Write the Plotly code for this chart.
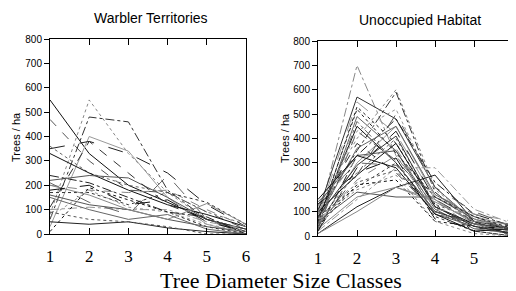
import plotly.graph_objects as go

# ---------------- data ----------------
size_classes = [1, 2, 3, 4, 5, 6]
y_ticks = [0, 100, 200, 300, 400, 500, 600, 700, 800]

warbler_territories = [
    [550, 330, 200, 130, 60, 10],
    [470, 300, 180, 170, 90, 20],
    [80, 550, 330, 170, 60, 10],
    [60, 480, 460, 180, 60, 20],
    [30, 400, 340, 150, 40, 0],
    [350, 380, 330, 250, 120, 30],
    [360, 250, 200, 170, 90, 40],
    [330, 250, 180, 120, 80, 30],
    [220, 240, 230, 150, 60, 20],
    [200, 180, 170, 180, 100, 30],
    [170, 170, 120, 170, 130, 40],
    [100, 110, 100, 100, 50, 20],
    [50, 40, 50, 25, 10, 0],
    [210, 130, 80, 240, 60, 0],
    [10, 190, 140, 90, 30, 0],
    [160, 120, 100, 60, 30, 10],
    [200, 160, 100, 60, 125, 40],
    [110, 380, 250, 120, 60, 20],
    [70, 180, 110, 90, 40, 10],
    [240, 210, 150, 90, 70, 0],
    [150, 100, 60, 80, 20, 0],
    [180, 200, 120, 140, 50, 10],
    [90, 60, 50, 30, 0, 0],
]

unoccupied_habitat = [
    [60, 700, 330, 120, 40, 20],
    [100, 570, 480, 200, 60, 30],
    [80, 550, 420, 150, 30, 10],
    [50, 530, 380, 130, 20, 0],
    [40, 490, 350, 110, 30, 10],
    [70, 450, 300, 100, 50, 20],
    [30, 430, 310, 140, 60, 10],
    [120, 400, 600, 200, 60, 20],
    [90, 350, 590, 180, 50, 30],
    [40, 300, 450, 160, 80, 40],
    [20, 280, 430, 150, 60, 30],
    [60, 260, 400, 130, 70, 20],
    [100, 250, 380, 120, 50, 30],
    [130, 330, 350, 90, 40, 10],
    [50, 230, 330, 100, 30, 20],
    [80, 200, 300, 80, 20, 0],
    [20, 150, 280, 280, 110, 50],
    [10, 120, 200, 250, 60, 0],
    [140, 300, 290, 170, 90, 40],
    [40, 210, 230, 60, 40, 10],
    [60, 180, 160, 160, 70, 30],
    [30, 160, 200, 150, 50, 20],
    [110, 380, 260, 100, 60, 40],
    [90, 430, 520, 190, 70, 30],
    [20, 330, 480, 220, 90, 40],
    [70, 360, 450, 170, 80, 20],
    [130, 260, 320, 70, 30, 40],
    [50, 220, 270, 90, 50, 30],
    [10, 100, 200, 140, 60, 50],
    [80, 290, 410, 120, 40, 10],
    [100, 320, 360, 110, 90, 60],
    [60, 520, 340, 160, 80, 30],
    [30, 470, 300, 100, 50, 0],
    [150, 330, 280, 90, 20, 30],
    [40, 250, 500, 200, 100, 40],
    [70, 190, 250, 60, 10, 0],
]

# ---------------- styling ----------------
colors = ["#111111", "#555555", "#888888", "#333333", "#999999", "#222222", "#666666"]
dashes = ["solid", "dash", "dot", "dashdot", "solid", "longdash", "dot", "solid"]

fig = go.Figure()

for i, vals in enumerate(warbler_territories):
    fig.add_trace(go.Scatter(
        x=size_classes, y=vals, mode="lines", showlegend=False, hoverinfo="skip",
        line=dict(color=colors[i % len(colors)], width=1, dash=dashes[i % len(dashes)]),
        xaxis="x", yaxis="y"))

for i, vals in enumerate(unoccupied_habitat):
    fig.add_trace(go.Scatter(
        x=size_classes, y=vals, mode="lines", showlegend=False, hoverinfo="skip",
        line=dict(color=colors[(i + 2) % len(colors)], width=1, dash=dashes[(i + 3) % len(dashes)]),
        xaxis="x2", yaxis="y2"))

# the page body has an 8px margin, so the figure is drawn 8px in from the window corner
OFF = 8
W, H = 516, 291
def px(x):
    return (x - OFF) / W
def py(y):
    return 1 - (y - OFF) / H

serif = "Liberation Serif, Times New Roman, serif"
sans = "Liberation Sans, Arial, sans-serif"

xcommon = dict(range=[1, 6], tickvals=size_classes, ticks="inside", ticklen=6,
               tickcolor="black", showline=True, linecolor="black", linewidth=1,
               mirror="ticks", showgrid=False, zeroline=False, automargin=False,
               tickfont=dict(family=serif, size=17, color="black"),
               ticklabelstandoff=7, ticklabeloverflow="allow")
ycommon = dict(range=[0, 800], tickvals=y_ticks, ticks="outside", ticklen=5,
               tickcolor="black", showline=True, linecolor="black", linewidth=1,
               mirror=True, showgrid=False, zeroline=False, automargin=False,
               tickfont=dict(family=sans, size=10, color="black"))
yright = dict(range=[0, 800], tickvals=y_ticks, ticks="inside", ticklen=5,
              tickcolor="black", showticklabels=False, showline=False,
              showgrid=False, zeroline=False, side="right", automargin=False)

fig.update_layout(
    width=W, height=H,
    margin=dict(l=0, r=0, t=0, b=0, autoexpand=False),
    paper_bgcolor="white", plot_bgcolor="white",
    xaxis=dict(domain=[px(50), px(246)], anchor="y", **xcommon),
    yaxis=dict(domain=[py(234), py(39)], anchor="x", **ycommon),
    xaxis2=dict(domain=[px(318), px(513)], anchor="y2", **xcommon),
    yaxis2=dict(domain=[py(236), py(41)], anchor="x2", **ycommon),
    yaxis3=dict(overlaying="y", anchor="x", **yright),
    yaxis4=dict(overlaying="y2", anchor="x2", **yright),
)

annos = [
    dict(text="Warbler Territories", x=px(151), y=py(18), font=dict(family=sans, size=14, color="black")),
    dict(text="Unoccupied Habitat", x=px(420), y=py(20), font=dict(family=sans, size=14, color="black")),
    dict(text="Trees / ha", x=px(16), y=py(137), textangle=-90, font=dict(family=sans, size=11, color="black")),
    dict(text="Trees / ha", x=px(285), y=py(138), textangle=-90, font=dict(family=sans, size=11, color="black")),
    dict(text="Tree Diameter Size Classes", x=px(281), y=py(280), font=dict(family=serif, size=22, color="black")),
]
for a in annos:
    fig.add_annotation(xref="paper", yref="paper", showarrow=False,
                       xanchor="center", yanchor="middle", **a)

fig.write_html("out.html")
